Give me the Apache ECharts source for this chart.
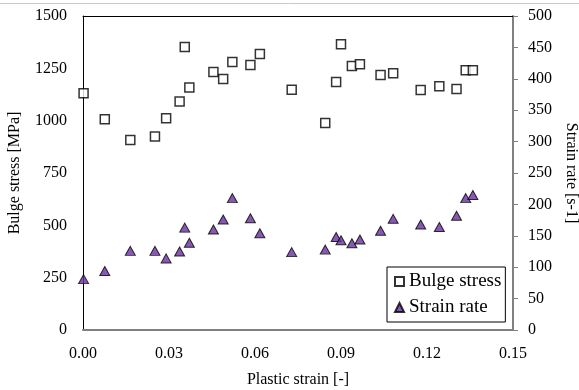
<!DOCTYPE html>
<html><head><meta charset="utf-8">
<script src="https://cdn.jsdelivr.net/npm/echarts@6/dist/echarts.min.js"></script>
<style>html,body{margin:0;padding:0;background:#fff}#c{width:579px;height:390px}</style>
</head><body><div id="c"></div>
<script>
const strain = [0.0002,0.0076,0.0165,0.0251,0.0290,0.0337,0.0355,0.0371,0.0455,0.0489,0.0521,0.0584,0.0617,0.0728,0.0845,0.0883,0.0900,0.0938,0.0966,0.1038,0.1082,0.1178,0.1243,0.1303,0.1335,0.1360];
const bulgeStress = [1131,1007,908,924,1011,1091,1352,1158,1233,1199,1280,1266,1319,1148,989,1185,1365,1261,1270,1218,1226,1147,1164,1151,1241,1241];
const strainRate = [81,94,126,126,114,125,163,139,160,176,210,178,154,124,128,148,143,138,144,158,177,168,164,182,210,215];
const xTicks = ['0.00','0.03','0.06','0.09','0.12','0.15'];

const font = "'Liberation Serif', 'Times New Roman', serif";
const chart = echarts.init(document.getElementById('c'), null, {renderer:'canvas'});
const stressData = strain.map((x,i)=>[x,bulgeStress[i]]);
const rateData = strain.map((x,i)=>[x,strainRate[i]]);
chart.setOption({
  animation:false,
  backgroundColor:'#fff',
  textStyle:{fontFamily:font},
  grid:{left:83,right:66,top:16,bottom:60,containLabel:false,outerBoundsMode:'none'},
  graphic:[{type:'line',shape:{x1:0,y1:3.5,x2:579,y2:3.5},style:{stroke:'#c8c8c8',lineWidth:1}}],
  legend:{
    left:387, top:267, orient:'vertical',
    backgroundColor:'#fff', borderColor:'#000', borderWidth:1, padding:[5,4,5,7],
    itemWidth:9, itemHeight:9, itemGap:7,
    textStyle:{fontFamily:font,fontSize:19,color:'#000',lineHeight:19},
    data:[{name:'Bulge stress'},{name:'Strain rate'}]
  },
  xAxis:[{
    type:'value', min:0, max:0.15, interval:0.03,
    name:'Plastic strain [-]', nameLocation:'middle', nameGap:42,
    nameTextStyle:{fontFamily:font,fontSize:16,color:'#000'},
    axisLine:{show:true,lineStyle:{color:'#808080',width:2}},
    axisTick:{show:false}, splitLine:{show:false},
    axisLabel:{fontFamily:font,fontSize:16,color:'#000',margin:16,formatter:(v)=>xTicks[Math.round(v/0.03)]}
  },{
    type:'value', min:0, max:0.15, position:'top',
    axisLine:{show:true,onZero:false,lineStyle:{color:'#000',width:1}},
    axisTick:{show:false}, axisLabel:{show:false}, splitLine:{show:false}
  }],
  yAxis:[{
    type:'value', min:0, max:1500, interval:250, position:'left',
    name:'Bulge stress [MPa]', nameLocation:'middle', nameGap:60, nameRotate:90,
    nameTextStyle:{fontFamily:font,fontSize:16,color:'#000'},
    axisLine:{show:true,onZero:false,lineStyle:{color:'#000',width:1}},
    axisTick:{show:false}, splitLine:{show:false},
    axisLabel:{fontFamily:font,fontSize:16,color:'#000',margin:16,formatter:(v)=>String(v)}
  },{
    type:'value', min:0, max:500, interval:50, position:'right',
    name:'Strain rate [s-1]', nameLocation:'middle', nameGap:49, nameRotate:-90,
    nameTextStyle:{fontFamily:font,fontSize:16,color:'#000'},
    axisLine:{show:true,onZero:false,lineStyle:{color:'#808080',width:2}},
    axisTick:{show:true,inside:false,length:5,lineStyle:{color:'#808080',width:1}},
    splitLine:{show:false},
    axisLabel:{fontFamily:font,fontSize:16,color:'#000',margin:15,formatter:(v)=>String(v)}
  }],
  series:[{
    name:'Bulge stress', type:'scatter', xAxisIndex:0, yAxisIndex:0,
    symbol:'rect', symbolSize:9, data:stressData,
    itemStyle:{color:'#fff',borderColor:'#000',borderWidth:1.5}
  },{
    name:'Strain rate', type:'scatter', xAxisIndex:0, yAxisIndex:1,
    symbol:'triangle', symbolSize:[10,9], data:rateData,
    itemStyle:{color:'#6a2fa0',borderColor:'#000',borderWidth:1}
  }]
});
</script></body></html>
